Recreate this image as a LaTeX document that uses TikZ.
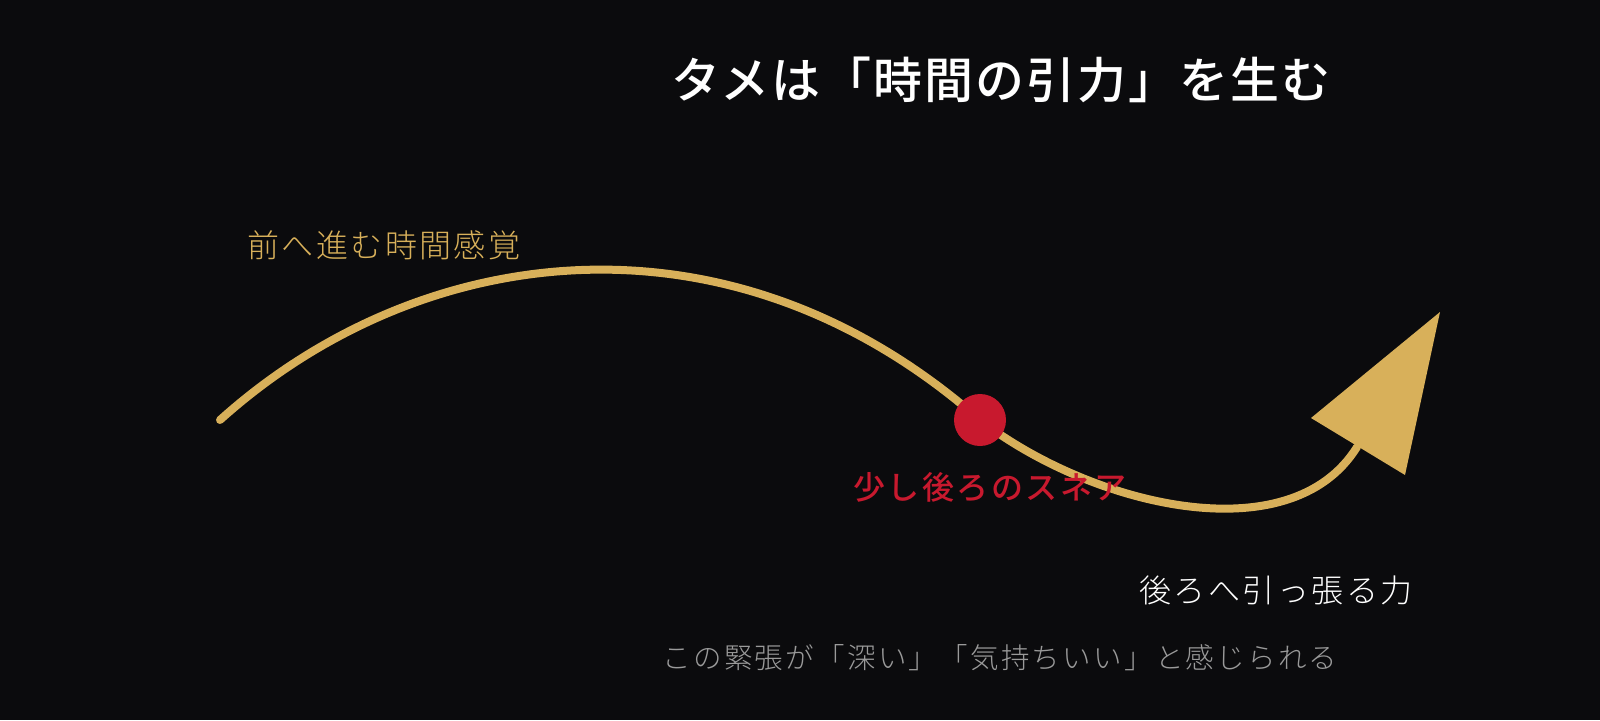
\documentclass[tikz,border=0pt]{standalone}
\usepackage{fontspec}
\newfontfamily\jpR{Noto Sans CJK JP}
\newfontfamily\jpM{Noto Sans CJK JP Medium}
\newfontfamily\jpL{Noto Sans CJK JP Light}
\definecolor{bg}{HTML}{0B0B0D}
\definecolor{gold}{HTML}{D8B05A}
\definecolor{snare}{HTML}{C8192E}
\definecolor{soft}{HTML}{9A9A9A}
\tikzset{
  lbl/.style={inner sep=0pt, anchor=center},
}
\begin{document}
\begin{tikzpicture}[x=1pt,y=-1pt]
\fill[bg] (0,0) rectangle (1600,720);
\useasboundingbox (0,0) rectangle (1600,720);
% curve
\coordinate (s) at (220,420);
\coordinate (d) at (980,420);
\coordinate (e) at (1357,447);
\draw[gold, line width=8pt, line cap=round]
  (s) .. controls (420,240) and (730,200) .. (d)
      .. controls (1090,505) and (1290,555) .. (e);
% arrow head
\coordinate (t1) at (1440,312);
\coordinate (t2) at (1311,418);
\coordinate (t3) at (1405,475);
\fill[gold] (t1) -- (t2) -- (t3) -- cycle;
% snare dot
\node[circle, fill=snare, minimum size=52pt, inner sep=0pt] (dot) at (d) {};
% texts
\node[lbl, text=white] (title) at (1001,80) {\jpM\addfontfeatures{LetterSpace=4}\fontsize{49}{58}\selectfont タメは「時間の引力」を生む};
\node[lbl, text=gold] (fwd) at (384,245) {\jpL\addfontfeatures{LetterSpace=7.5}\fontsize{32}{40}\selectfont 前へ進む時間感覚};
\node[lbl, text=snare] (sn) at (990,487) {\jpM\addfontfeatures{LetterSpace=8}\fontsize{32}{40}\selectfont 少し後ろのスネア};
\node[lbl, text=white] (back) at (1276,590) {\jpL\addfontfeatures{LetterSpace=8}\fontsize{32}{40}\selectfont 後ろへ引っ張る力};
\node[lbl, text=soft] (note) at (1000,658) {\jpL\addfontfeatures{LetterSpace=8}\fontsize{28.5}{36}\selectfont この緊張が「深い」「気持ちいい」と感じられる};
\end{tikzpicture}
\end{document}
